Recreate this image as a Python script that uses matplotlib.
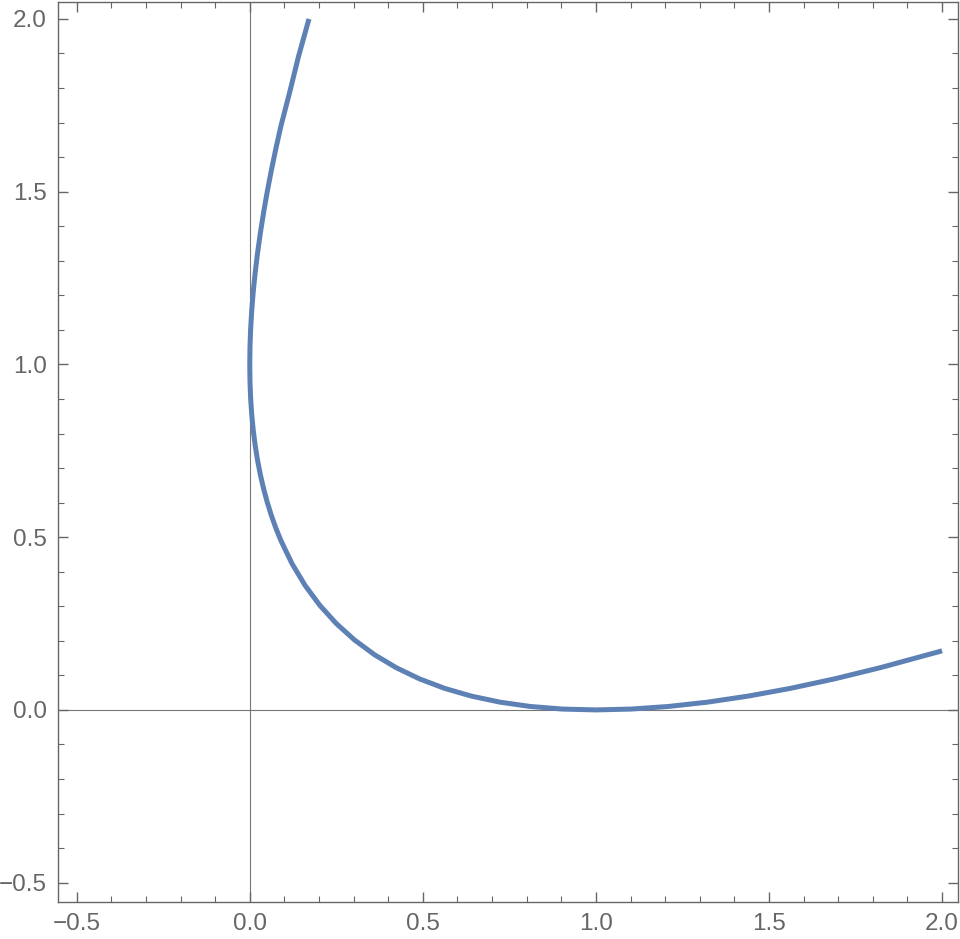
import matplotlib.pyplot as plt
from matplotlib.ticker import MultipleLocator

# points
x_vals = [0.171, 0.1406, 0.1156, 0.09, 0.0756, 0.0625, 0.0506, 0.04, 0.0306,
          0.0225, 0.0156, 0.01, 0.0056, 0.0025, 0.0006, 0.0, 0.0006, 0.0025,
          0.0056, 0.01, 0.0156, 0.0225, 0.0306, 0.04, 0.0506, 0.0625, 0.0756,
          0.09, 0.1225, 0.16, 0.2025, 0.25, 0.3025, 0.36, 0.4225, 0.49, 0.5625,
          0.64, 0.7225, 0.81, 0.9025, 1.0, 1.1025, 1.21, 1.3225, 1.44, 1.5625,
          1.69, 1.8225, 2.0]
y_vals = [2.0, 1.8906, 1.7889, 1.69, 1.6256, 1.5625, 1.5006, 1.44, 1.3806,
          1.3225, 1.2656, 1.21, 1.1556, 1.1025, 1.0506, 1.0, 0.9506, 0.9025,
          0.8556, 0.81, 0.7656, 0.7225, 0.6806, 0.64, 0.6006, 0.5625, 0.5256,
          0.49, 0.4225, 0.36, 0.3025, 0.25, 0.2025, 0.16, 0.1225, 0.09, 0.0625,
          0.04, 0.0225, 0.01, 0.0025, 0.0, 0.0025, 0.01, 0.0225, 0.04, 0.0625,
          0.09, 0.1225, 0.171]
major_ticks = [-0.5, 0.0, 0.5, 1.0, 1.5, 2.0]

plt.rcParams['font.family'] = ['Liberation Sans', 'DejaVu Sans']

fig = plt.figure(figsize=(9.6, 9.39), dpi=100)
ax = fig.add_axes([58 / 960, 37 / 939, 900 / 960, 900 / 939])

ax.axhline(0, color='#777777', lw=0.8, zorder=1)
ax.axvline(0, color='#777777', lw=0.8, zorder=1)
ax.plot(x_vals, y_vals, color='#5E81B5', lw=3.6, solid_capstyle='butt', zorder=3)

ax.set_xlim(-0.554, 2.046)
ax.set_ylim(-0.556, 2.049)
ax.set_xticks(major_ticks)
ax.set_yticks(major_ticks)
ax.set_xticklabels([f"{v:.1f}".replace('-', '\u2212') for v in major_ticks])
ax.set_yticklabels([f"{v:.1f}".replace('-', '\u2212') for v in major_ticks])
ax.xaxis.set_minor_locator(MultipleLocator(0.1))
ax.yaxis.set_minor_locator(MultipleLocator(0.1))

ax.tick_params(which='both', direction='in', top=True, right=True,
               color='#666666', labelcolor='#666666', labelsize=17.5, pad=8)
ax.tick_params(which='major', length=7.5, width=1.0)
ax.tick_params(which='minor', length=4.3, width=0.8)

for s in ax.spines.values():
    s.set_color('#666666')
    s.set_linewidth(1.0)

fig.savefig('out.png', dpi=100)
